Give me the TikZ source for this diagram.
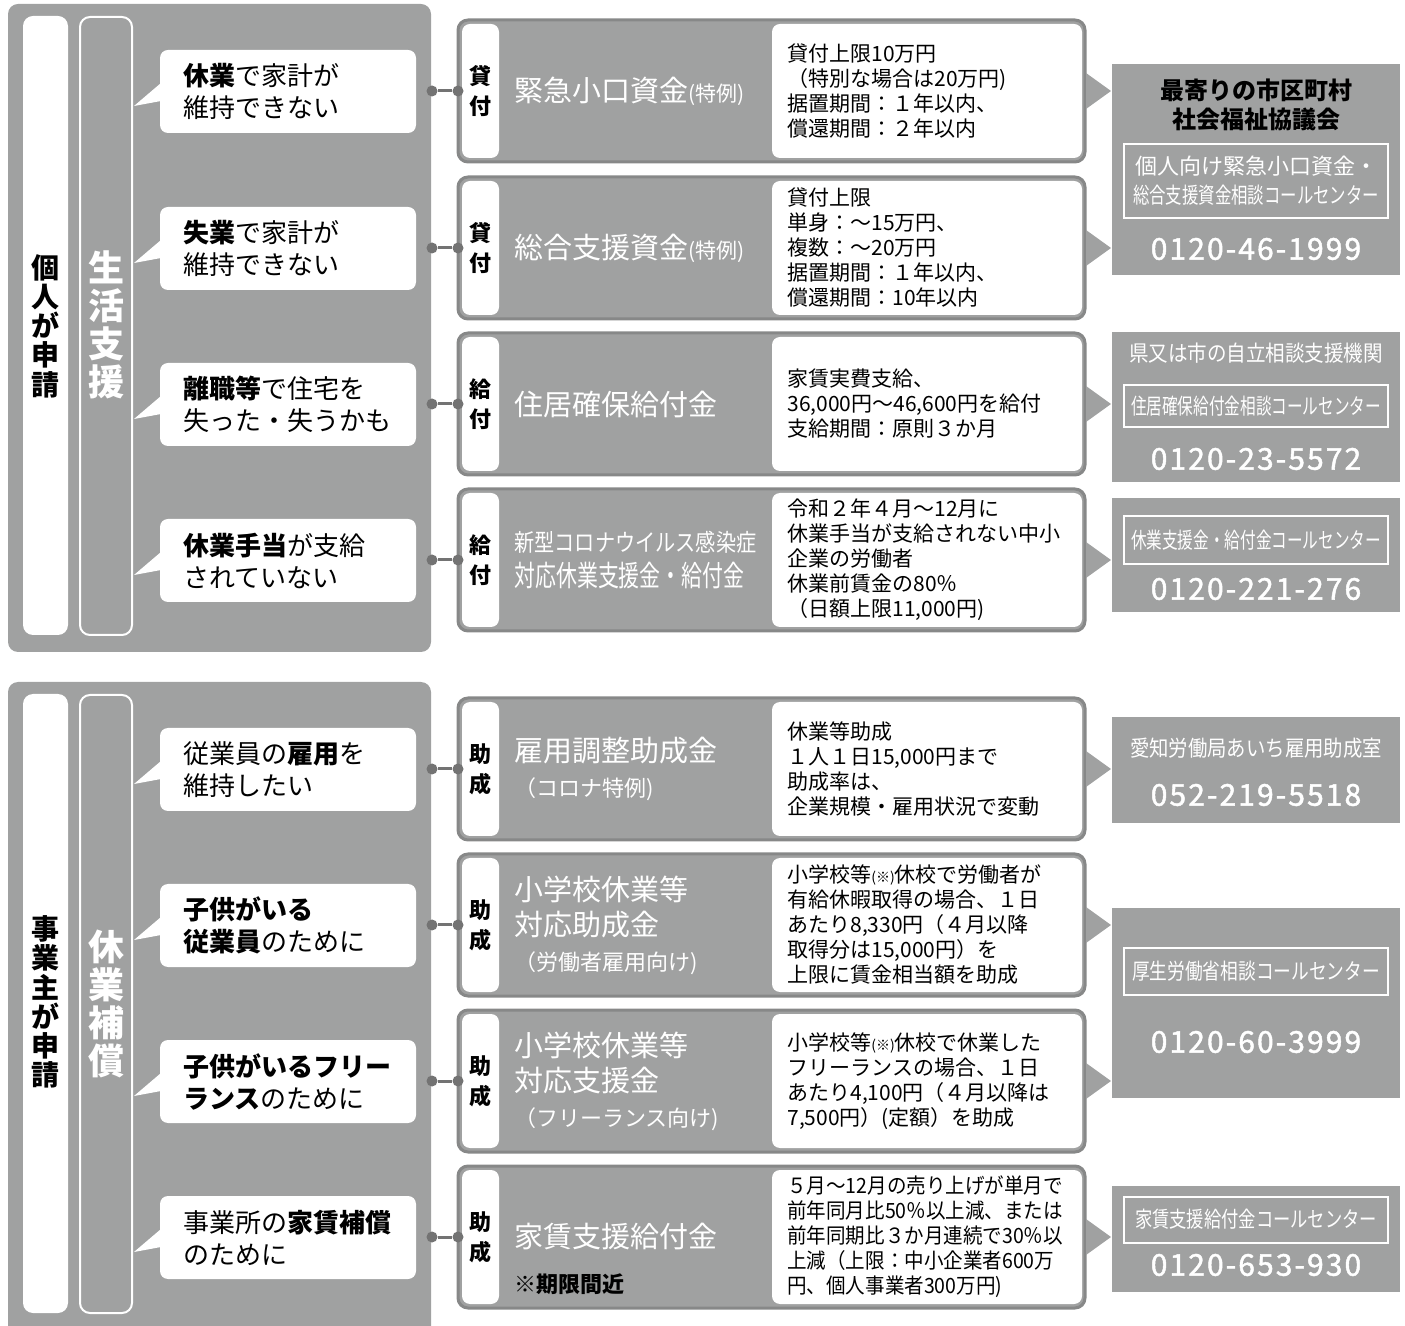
\documentclass[tikz,border=0pt]{standalone}
\usepackage{fontspec}
\setmainfont{Noto Sans CJK JP}
\newfontfamily\telfont[LetterSpace=7,FakeBold=1.5]{Noto Sans CJK JP}
\usepackage{graphicx}
\definecolor{pgray}{RGB}{160,161,161}
\definecolor{bgray}{RGB}{135,136,136}
\definecolor{dgray}{RGB}{115,115,115}
\newcommand\fitx[2]{\resizebox{#1}{\height}{#2}}
\newcommand\nx[1]{\scalebox{0.93}[1]{#1}}
\tikzset{
 rowbox/.style={fill=pgray, draw=bgray, line width=1.5pt, rounded corners=5pt, inner sep=0},
 tabbox/.style={fill=white, rounded corners=4pt, inner sep=0, minimum width=18.5pt, minimum height=67pt, align=center, font=\fontsize{11}{15}\selectfont\bfseries},
 detbox/.style={fill=white, rounded corners=4pt, inner sep=0, minimum width=155pt, minimum height=67pt},
 ttl/.style={text=white, anchor=west, align=left, inner sep=0, font=\fontsize{14.5}{17.5}\selectfont},
 det/.style={anchor=west, align=left, inner sep=0, font=\fontsize{10.5}{12.5}\selectfont},
 dotn/.style={circle, fill=dgray, inner sep=0, minimum size=5.5pt},
 conn/.style={draw=dgray, line width=1.5pt},
 bubtxt/.style={anchor=west, align=left, inner sep=0, font=\fontsize{13}{16}\selectfont},
 bubbox/.style={fill=white, rounded corners=4pt, minimum width=128pt, minimum height=41.5pt, inner sep=0},
 rbox/.style={fill=pgray, inner sep=0, minimum width=144pt},
 ibox/.style={draw=white, line width=1pt, inner sep=0, minimum width=132pt},
 wtxt/.style={text=white, inner sep=0, align=center},
 tel/.style={text=white, inner sep=0, font=\telfont\fontsize{15}{16}\selectfont},
 vlab/.style={inner sep=0, align=center, font=\fontsize{14}{14.6}\selectfont\bfseries},
 vlab2/.style={inner sep=0, align=center, text=white, font=\fontsize{18}{19}\selectfont\bfseries},
}
\newcommand\Row[5]{%
 \pgfmathsetmacro\yc{#2+71}%
 \node[rowbox, minimum width=313.5pt, minimum height=71pt] (row#1) at (771.5,\yc) {};
 \node[tabbox] (tab#1) at (480.5,\yc) {#3};
 \node[detbox] (db#1) at (927,\yc) {};
 \node[ttl] (ttl#1) at (514,\yc) {#4};
 \node[det] (det#1) at (787,\yc) {#5};
 \node[dotn] (dl#1) at (432,\yc) {};
 \node[dotn] (dr#1) at (458,\yc) {};
 \draw[conn] (dl#1) -- (dr#1);
 \fill[pgray] (1086,\yc-18) -- (1111,\yc) -- (1086,\yc+18) -- cycle;
}
\newcommand\Bub[3]{%
 \pgfmathsetmacro\yt{#2}%
 \fill[white] (161,\yt+33) -- (134,\yt+56) -- (161,\yt+51) -- cycle;
 \node[bubbox] (bub#1) at (288,\yt+41.5) {};
 \node[bubtxt] (bt#1) at (183,\yt+41.5) {#3};
}
\begin{document}
\begin{tikzpicture}[x=0.5pt,y=-0.5pt]
\useasboundingbox (0,0) rectangle (1405,1326);
\clip (0,0) rectangle (1405,1326);
% panels
\fill[pgray, rounded corners=5pt] (8,4) rectangle (431,652);
\fill[pgray, rounded corners=5pt] (8,682) rectangle (431,1345);
\node[fill=white, rounded corners=5pt, minimum width=22.5pt, minimum height=309.5pt, inner sep=0] (wb1) at (45.5,325.5) {};
\node[fill=pgray, draw=white, line width=1pt, rounded corners=5pt, minimum width=26pt, minimum height=309pt, inner sep=0] (ob1) at (106,326) {};
\node[fill=white, rounded corners=5pt, minimum width=22.5pt, minimum height=309.5pt, inner sep=0] (wb2) at (45.5,1003.5) {};
\node[fill=pgray, draw=white, line width=1pt, rounded corners=5pt, minimum width=26pt, minimum height=309pt, inner sep=0] (ob2) at (106,1004) {};
\node[vlab] (v1) at (45.5,326) {個\\人\\が\\申\\請};
\node[vlab2] (v2) at (106,325) {生\\活\\支\\援};
\node[vlab] (v3) at (45.5,1002) {事\\業\\主\\が\\申\\請};
\node[vlab2] (v4) at (106,1004) {休\\業\\補\\償};
% bubbles
\Bub{1}{50}{\textbf{休業}で家計が\\維持できない}
\Bub{2}{207}{\textbf{失業}で家計が\\維持できない}
\Bub{3}{363}{\textbf{離職等}で住宅を\\失った・失うかも}
\Bub{4}{519}{\textbf{休業手当}が支給\\されていない}
\Bub{5}{728}{従業員の\textbf{雇用}を\\維持したい}
\Bub{6}{884}{\textbf{子供がいる}\\\textbf{従業員}のために}
\Bub{7}{1040}{\textbf{子供がいるフリー}\\\textbf{ランス}のために}
\Bub{8}{1196}{事業所の\textbf{家賃補償}\\のために}
% rows
\Row{1}{20}{貸\\付}{緊急小口資金{\fontsize{10.5}{12}\selectfont(特例)}}{貸付上限10万円\\（特別な場合は20万円)\\据置期間：１年以内、\\償還期間：２年以内}
\Row{2}{177}{貸\\付}{総合支援資金{\fontsize{10.5}{12}\selectfont(特例)}}{貸付上限\\単身：～15万円、\\複数：～20万円\\据置期間：１年以内、\\償還期間：10年以内}
\Row{3}{333}{給\\付}{住居確保給付金}{家賃実費支給、\\36,000円～46,600円を給付\\支給期間：原則３か月}
\Row{4}{489}{給\\付}{\fontsize{12}{17}\selectfont\fitx{121pt}{新型コロナウイルス感染症}\\\fitx{115pt}{対応休業支援金・給付金}}{令和２年４月～12月に\\休業手当が支給されない中小\\企業の労働者\\休業前賃金の80％\\（日額上限11,000円)}
\Row{5}{698}{助\\成}{雇用調整助成金\\{\fontsize{11}{12}\selectfont（コロナ特例)}}{休業等助成\\１人１日15,000円まで\\助成率は、\\企業規模・雇用状況で変動}
\Row{6}{854}{助\\成}{小学校休業等\\対応助成金\\{\fontsize{11}{12}\selectfont（労働者雇用向け)}}{小学校等{\fontsize{7}{7}\selectfont(※)}休校で労働者が\\有給休暇取得の場合、１日\\あたり8,330円（４月以降\\取得分は15,000円）を\\上限に賃金相当額を助成}
\Row{7}{1010}{助\\成}{小学校休業等\\対応支援金\\{\fontsize{11}{12}\selectfont（フリーランス向け)}}{小学校等{\fontsize{7}{7}\selectfont(※)}休校で休業した\\フリーランスの場合、１日\\あたり4,100円（４月以降は\\7,500円）(定額）を助成}
\Row{8}{1166}{助\\成}{家賃支援給付金}{\nx{５月～12月の売り上げが単月で}\\\nx{前年同月比50％以上減、または}\\\nx{前年同期比３か月連続で30％以}\\\nx{上減（上限：中小企業者600万}\\\nx{円、個人事業者300万円)}}
\node[font=\fontsize{11}{12}\selectfont\bfseries, anchor=west, inner sep=0] (kigen) at (514,1284) {※期限間近};
% right boxes
\node[rbox, minimum height=105.5pt] (rA) at (1256,169.5) {};
\node[inner sep=0, align=center, font=\fontsize{12}{14.5}\selectfont\bfseries] (rAt) at (1256,105) {最寄りの市区町村\\社会福祉協議会};
\node[ibox, minimum height=37pt] (rAi) at (1256,181) {};
\node[wtxt, font=\fontsize{11}{14.5}\selectfont] (rAit) at (1256,181) {個人向け緊急小口資金・\\\fitx{123pt}{総合支援資金相談コールセンター}};
\node[tel] (rAp) at (1256,249) {0120-46-1999};

\node[rbox, minimum height=75pt] (rB) at (1256,407) {};
\node[wtxt, font=\fontsize{11}{13}\selectfont] (rBt) at (1256,353) {\fitx{127pt}{県又は市の自立相談支援機関}};
\node[ibox, minimum height=21pt] (rBi) at (1256,406) {};
\node[wtxt, font=\fontsize{11}{13}\selectfont] (rBit) at (1256,406) {\fitx{125pt}{住居確保給付金相談コールセンター}};
\node[tel] (rBp) at (1256,459) {0120-23-5572};

\node[rbox, minimum height=57pt] (rC) at (1256,555) {};
\node[ibox, minimum height=24pt] (rCi) at (1256,540) {};
\node[wtxt, font=\fontsize{11}{13}\selectfont] (rCit) at (1256,540) {\fitx{125pt}{休業支援金・給付金コールセンター}};
\node[tel] (rCp) at (1256,589) {0120-221-276};

\node[rbox, minimum height=53pt] (rD) at (1256,770) {};
\node[wtxt, font=\fontsize{11}{13}\selectfont] (rDt) at (1256,748) {\fitx{126pt}{愛知労働局あいち雇用助成室}};
\node[tel] (rDp) at (1256,795) {052-219-5518};

\node[rbox, minimum height=95pt] (rE) at (1256,1003) {};
\node[ibox, minimum height=23.5pt] (rEi) at (1256,971.5) {};
\node[wtxt, font=\fontsize{11}{13}\selectfont] (rEit) at (1256,971.5) {\fitx{124pt}{厚生労働省相談コールセンター}};
\node[tel] (rEp) at (1256,1042) {0120-60-3999};

\node[rbox, minimum height=53pt] (rF) at (1256,1239) {};
\node[ibox, minimum height=23pt] (rFi) at (1256,1220) {};
\node[wtxt, font=\fontsize{11}{13}\selectfont] (rFit) at (1256,1219) {\fitx{121pt}{家賃支援給付金コールセンター}};
\node[tel] (rFp) at (1256,1265) {0120-653-930};
\end{tikzpicture}
\end{document}
